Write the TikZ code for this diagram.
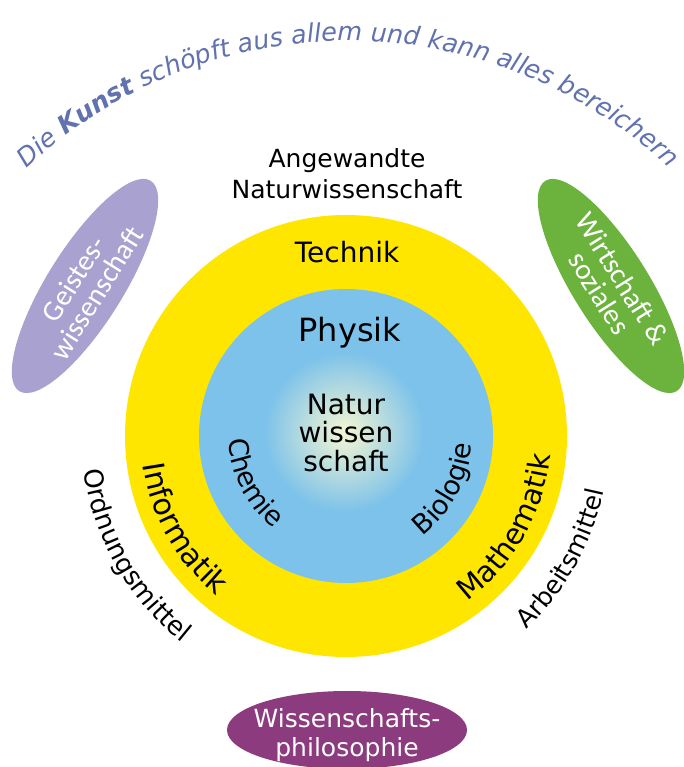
\documentclass[tikz,border=0pt]{standalone}
\usepackage{fontspec}
\setmainfont{DejaVu Sans}
\newfontfamily\carl{Carlito}
\usetikzlibrary{shapes.geometric,decorations.text}
\definecolor{ringyellow}{HTML}{FFE600}
\definecolor{ringblue}{HTML}{7CC2EA}
\definecolor{glowcol}{HTML}{F6F6D2}
\definecolor{lav}{HTML}{A9A1CF}
\definecolor{grn}{HTML}{6CB33E}
\definecolor{purp}{HTML}{8C3B7E}
\definecolor{titleblue}{HTML}{6172AE}
\newcommand\fsz[1]{\fontsize{#1}{#1}\selectfont}
\newcommand\titlef{\itshape\mdseries\fsz{25.5}}
\newcommand\titlefb{\itshape\bfseries\fsz{25.5}}
\begin{document}
\begin{tikzpicture}[x=1pt,y=1pt,
  lbl/.style={inner sep=0pt, anchor=base},
  blob/.style={ellipse, draw=none, inner sep=0pt},
  blobtext/.style={text=white, align=center, inner sep=0pt},
  arctext/.style={decorate, decoration={text along path, text align=center, text={#1}}}
]
\useasboundingbox (0,0) rectangle (683,767);
\fill[white] (0,0) rectangle (683,767);
\coordinate (C) at (346,331);
\coordinate (G) at (344,335);
\coordinate (T) at (348,257);

% rings
\fill[ringyellow] (C) circle (221);
\fill[ringblue] (C) circle (147);
\shade[inner color=glowcol, outer color=ringblue] (G) circle (80);

% title arc
\path[decorate, decoration={text along path, text align=center, text color=titleblue,
  text={|\titlef|Die |\titlefb|Kunst|\titlef| schöpft aus allem und kann alles bereichern}}]
  (T) ++(160:469) arc[start angle=160, end angle=20, radius=469];

% top labels
\node[lbl, font=\fsz{25}] (angew) at (347,599) {Angewandte};
\node[lbl, font=\fsz{25}] (natw) at (347,568) {Naturwissenschaft};
\node[lbl, font=\fsz{28}] (technik) at (347,504) {Technik};
\node[lbl, font=\fsz{32}] (physik) at (350,425) {Physik};
\node[lbl, font=\fsz{28}] (nw1) at (346,352) {Natur};
\node[lbl, font=\fsz{28}] (nw2) at (346,324) {wissen};
\node[lbl, font=\fsz{28}] (nw3) at (346,295) {schaft};

% curved labels
\path[arctext={|\fsz{26}|Ordnungsmittel}] (C) ++(170:264) arc[start angle=170, end angle=249, radius=264];
\path[arctext={|\fsz{25}|Arbeitsmittel}] (C) ++(-69:264) arc[start angle=-69, end angle=10, radius=264];
\path[arctext={|\fsz{30}|Informatik}] (C) ++(170:205) arc[start angle=170, end angle=249, radius=205];
\path[arctext={|\fsz{29}|Mathematik}] (C) ++(-69:205) arc[start angle=-69, end angle=10, radius=205];
\path[arctext={|\fsz{27}|Chemie}] (C) ++(167:117) arc[start angle=167, end angle=247, radius=117];
\path[arctext={|\fsz{27}|Biologie}] (C) ++(-68:126) arc[start angle=-68, end angle=12, radius=126];

% side ellipses
\node[blob, fill=lav, minimum width=248, minimum height=76, rotate=58] (geist) at (85,481) {};
\node[blobtext, rotate=58, font=\carl\fontsize{29}{27}\selectfont] (geisttxt) at (geist.center) {Geistes-\\wissenschaft};
\node[blob, fill=grn, minimum width=248, minimum height=76, rotate=-58] (wirt) at (611,481) {};
\node[blobtext, rotate=-58, font=\carl\fontsize{29}{27}\selectfont] (wirttxt) at (wirt.center) {Wirtschaft \&\\soziales};
\node[blob, fill=purp, minimum width=240, minimum height=78] (phil) at (347,37) {};
\node[lbl, text=white, font=\fsz{25}] (phil1) at (347,39) {Wissenschafts-};
\node[lbl, text=white, font=\fsz{25}] (phil2) at (347,10) {philosophie};
\end{tikzpicture}
\end{document}
